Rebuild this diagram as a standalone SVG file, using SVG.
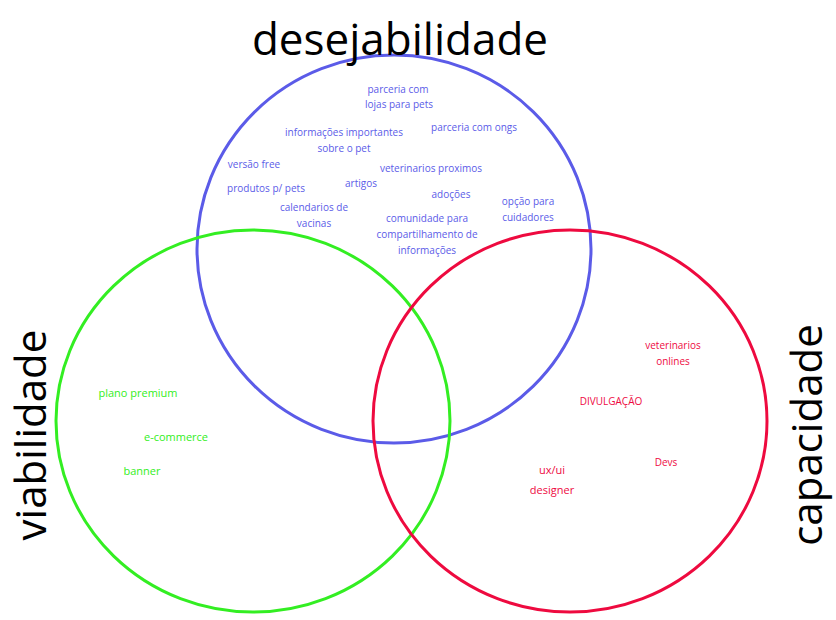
<svg xmlns="http://www.w3.org/2000/svg" width="836" height="620" viewBox="0 0 836 620">
<style>
.t{font-family:"Open Sans","Liberation Sans",sans-serif;font-size:10px;text-anchor:middle}
.b{fill:#5b5be8}.g{fill:#33ee22}.r{fill:#ee0a3f}
.h{font-family:"Open Sans","Liberation Sans",sans-serif;font-size:42px;fill:#000;text-anchor:middle}
</style>
<rect width="836" height="620" fill="#fff"/>
<g id="connectors"></g>
<g id="desejabilidade">
<ellipse cx="394" cy="249" rx="197" ry="194" fill="none" stroke="#5b5be8" stroke-width="3"/>
<text class="h" x="400" y="55" style="font-size:44px">desejabilidade</text>
<g class="t b">
<text x="398" y="93">parceria com</text><text x="399" y="108">lojas para pets</text>
<text x="344" y="136">informações importantes</text><text x="344" y="152">sobre o pet</text>
<text x="474" y="131">parceria com ongs</text>
<text x="254" y="168">versão free</text>
<text x="431" y="172">veterinarios  proximos</text>
<text x="361" y="187">artigos</text>
<text x="266" y="192">produtos p/ pets</text>
<text x="451" y="198">adoções</text>
<text x="528" y="205">opção para</text><text x="528" y="221">cuidadores</text>
<text x="314" y="211">calendarios de</text><text x="314" y="227">vacinas</text>
<text x="427" y="222">comunidade para</text><text x="427" y="238">compartilhamento de</text><text x="427" y="254">informações</text>
</g>
</g>
<g id="viabilidade">
<ellipse cx="253" cy="421" rx="197" ry="191" fill="none" stroke="#33ee22" stroke-width="3"/>
<text class="h" transform="translate(46,435) rotate(-90)">viabilidade</text>
<g class="t g" style="font-size:11px">
<text x="138" y="397">plano premium</text>
<text x="176" y="441">e-commerce</text>
<text x="142" y="475">banner</text>
</g>
</g>
<g id="capacidade">
<ellipse cx="570" cy="421" rx="197" ry="191" fill="none" stroke="#ee0a3f" stroke-width="3"/>
<text class="h" transform="translate(822,435) rotate(-90)">capacidade</text>
<g class="t r">
<text x="673" y="349">veterinarios</text><text x="673" y="365">onlines</text>
<text x="611" y="405">DIVULGAÇÃO</text>
<text x="666" y="466">Devs</text>
<text x="552" y="474" style="font-size:11px">ux/ui</text><text x="552" y="494" style="font-size:11px">designer</text>
</g>
</g>
</svg>
